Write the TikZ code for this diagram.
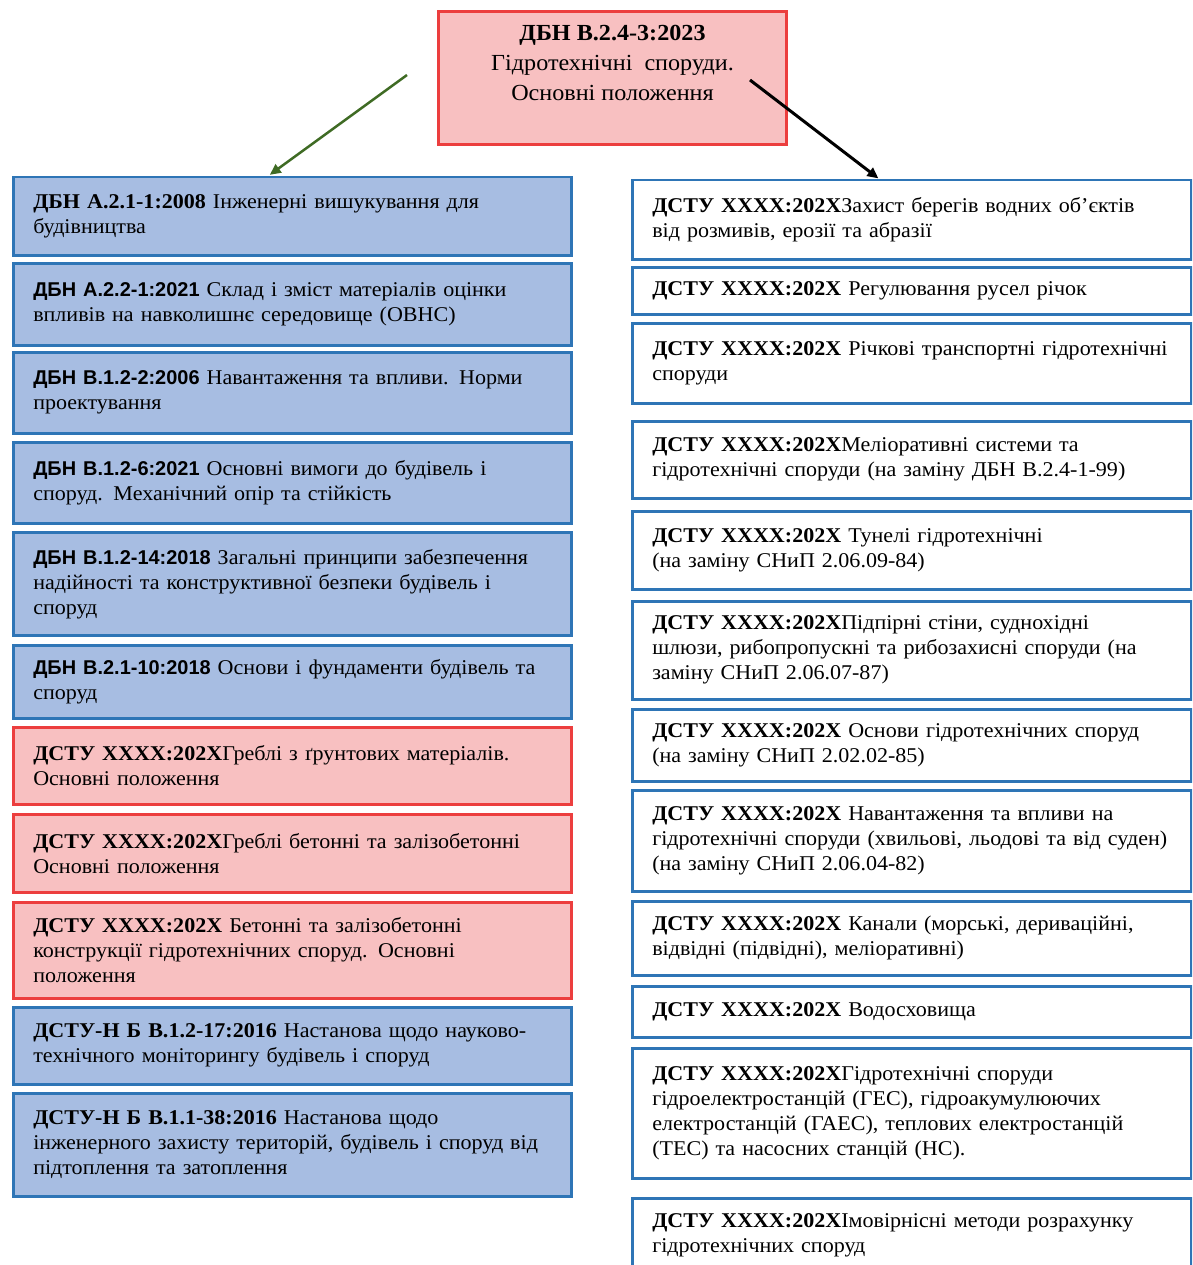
\documentclass[tikz,border=0pt]{standalone}
\usepackage{fontspec}
\setmainfont{Liberation Serif}[FakeStretch=1.05]
\newfontfamily\sanscode{Liberation Sans}[Scale=0.95]
\usetikzlibrary{arrows.meta,calc}

\definecolor{fillblue}{RGB}{167,189,226}
\definecolor{lineblue}{RGB}{46,117,182}
\definecolor{fillpink}{RGB}{248,192,193}
\definecolor{linered}{RGB}{236,62,62}
\definecolor{arrowgreen}{RGB}{63,107,36}

\tikzset{
    doc/.style={draw=lineblue, line width=2.5pt, anchor=north west, align=left,
        inner xsep=20pt, inner ysep=0pt, font=\fontsize{21}{25}\selectfont},
    docleft/.style={doc, minimum width=558pt, text width=518pt},
    docright/.style={doc, fill=white, minimum width=559pt, text width=519pt},
    blue/.style={fill=fillblue},
    pink/.style={draw=linered, fill=fillpink},
}
\newcommand{\dstu}{\textbf{ДСТУ XXXX:202X}}

\begin{document}
\begin{tikzpicture}[x=1pt, y=-1pt]
    \useasboundingbox (0,0) rectangle (1192,1265);
    \clip (0,0) rectangle (1192,1265);

    % головний документ
    \node[draw=linered, fill=fillpink, line width=3pt, anchor=north west,
        minimum width=348pt, minimum height=133pt, align=center,
        font=\fontsize{23}{30}\selectfont] (dbn) at (437,10)
        {\textbf{ДБН В.2.4-3:2023}\\Гідротехнічні\ \ споруди.\\Основні положення\\\mbox{}};

    % ліва колонка
    \node[docleft, blue, minimum height=78pt] (l1) at (12,176)
        {\textbf{ДБН А.2.1-1:2008} Інженерні вишукування для\\будівництва};
    \node[docleft, blue, minimum height=82pt] (l2) at (12,262)
        {{\sanscode\bfseries ДБН А.2.2-1:2021} Склад і зміст матеріалів оцінки\\впливів на навколишнє середовище (ОВНС)};
    \node[docleft, blue, minimum height=81pt] (l3) at (12,351)
        {{\sanscode\bfseries ДБН В.1.2-2:2006} Навантаження та впливи. Норми\\проектування};
    \node[docleft, blue, minimum height=81pt] (l4) at (12,441)
        {{\sanscode\bfseries ДБН В.1.2-6:2021} Основні вимоги до будівель і\\споруд. Механічний опір та стійкість};
    \node[docleft, blue, minimum height=103pt] (l5) at (12,531)
        {{\sanscode\bfseries ДБН В.1.2-14:2018} Загальні принципи забезпечення\\надійності та конструктивної безпеки будівель і\\споруд};
    \node[docleft, blue, minimum height=73pt] (l6) at (12,644)
        {{\sanscode\bfseries ДБН В.2.1-10:2018} Основи і фундаменти будівель та\\споруд};
    \node[docleft, pink, minimum height=77pt] (l7) at (12,726)
        {\dstu Греблі з ґрунтових матеріалів.\\Основні положення};
    \node[docleft, pink, minimum height=78pt] (l8) at (12,813)
        {\dstu Греблі бетонні та залізобетонні\\Основні положення};
    \node[docleft, pink, minimum height=96pt] (l9) at (12,901)
        {\dstu{} Бетонні та залізобетонні\\конструкції гідротехнічних споруд. Основні\\положення};
    \node[docleft, blue, minimum height=77pt] (l10) at (12,1006)
        {\textbf{ДСТУ-Н Б В.1.2-17:2016} Настанова щодо науково-\\технічного моніторингу будівель і споруд};
    \node[docleft, blue, minimum height=103pt] (l11) at (12,1092)
        {\textbf{ДСТУ-Н Б В.1.1-38:2016} Настанова щодо\\інженерного захисту територій, будівель і споруд від\\підтоплення та затоплення};

    % права колонка
    \node[docright, minimum height=79pt] (r1) at (631,179)
        {\dstu Захист берегів водних об’єктів\\від розмивів, ерозії та абразії};
    \node[docright, minimum height=47pt] (r2) at (631,266)
        {\dstu{} Регулювання русел річок};
    \node[docright, minimum height=80pt] (r3) at (631,322)
        {\dstu{} Річкові транспортні гідротехнічні\\споруди};
    \node[docright, minimum height=77pt] (r4) at (631,420)
        {\dstu Меліоративні системи та\\гідротехнічні споруди (на заміну ДБН В.2.4-1-99)};
    \node[docright, minimum height=78pt] (r5) at (631,510)
        {\dstu{} Тунелі гідротехнічні\\(на заміну СНиП 2.06.09-84)};
    \node[docright, minimum height=98pt] (r6) at (631,600)
        {\dstu Підпірні стіни, суднохідні\\шлюзи, рибопропускні та рибозахисні споруди (на\\заміну СНиП 2.06.07-87)};
    \node[docright, minimum height=72pt] (r7) at (631,708)
        {\dstu{} Основи гідротехнічних споруд\\(на заміну СНиП 2.02.02-85)};
    \node[docright, minimum height=101pt] (r8) at (631,789)
        {\dstu{} Навантаження та впливи на\\гідротехнічні споруди (хвильові, льодові та від суден)\\(на заміну СНиП 2.06.04-82)};
    \node[docright, minimum height=74pt] (r9) at (631,900)
        {\dstu{} Канали (морські, дериваційні,\\відвідні (підвідні), меліоративні)};
    \node[docright, minimum height=51pt] (r10) at (631,985)
        {\dstu{} Водосховища};
    \node[docright, minimum height=130pt] (r11) at (631,1047)
        {\dstu Гідротехнічні споруди\\гідроелектростанцій (ГЕС), гідроакумулюючих\\електростанцій (ГАЕС), теплових електростанцій\\(ТЕС) та насосних станцій (НС).};
    \node[docright, minimum height=75pt] (r12) at (631,1197)
        {\dstu Імовірнісні методи розрахунку\\гідротехнічних споруд};

    % стрілки
    \coordinate (gstart) at (407,75);
    \coordinate (bstart) at (750,80);
    \draw[arrowgreen, line width=2.5pt, -{Triangle[length=11pt,width=10pt]}, shorten >=2pt]
        (gstart) -- ($(l1.north west)!0.457!(l1.north east)$);
    \draw[black, line width=3pt, -{Triangle[length=11pt,width=10pt]}, shorten >=1pt]
        (bstart) -- ($(r1.north west)!0.442!(r1.north east)$);
\end{tikzpicture}
\end{document}
